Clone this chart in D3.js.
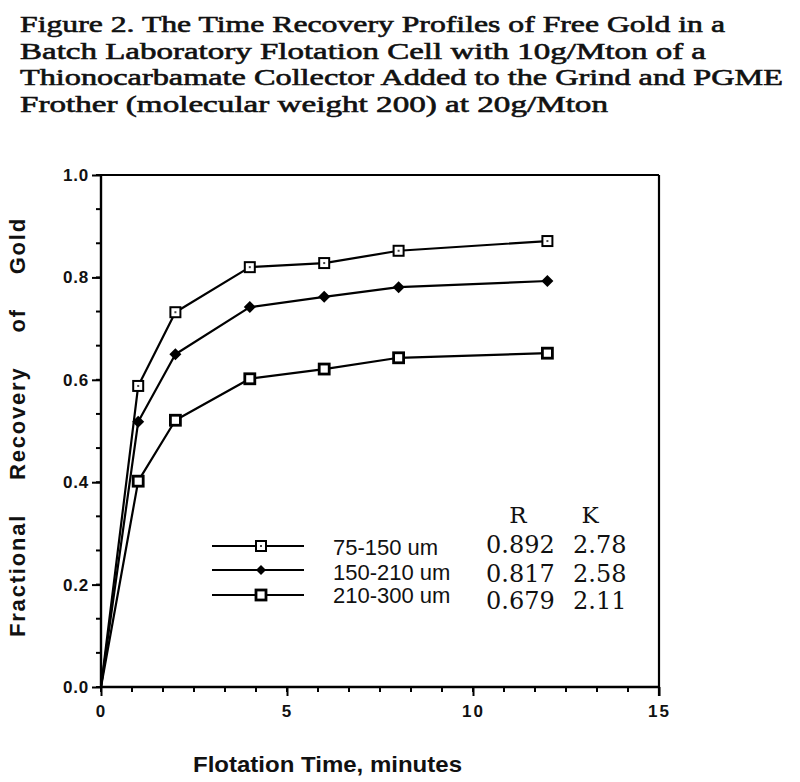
<!DOCTYPE html>
<html>
<head>
<meta charset="utf-8">
<script src="https://cdn.jsdelivr.net/npm/d3@7"></script>
<style>
  html, body { margin: 0; padding: 0; background: #fff; }
  svg { display: block; }
</style>
</head>
<body>
<svg id="chart" width="800" height="782"></svg>
<script>
// ---------- data ----------
const titleLines = [
  "Figure 2.  The Time Recovery Profiles of Free Gold in a",
  "Batch Laboratory Flotation Cell with 10g/Mton of a",
  "Thionocarbamate Collector Added to the Grind and PGME",
  "Frother (molecular weight 200) at 20g/Mton"
];
const times = [0, 1, 2, 4, 6, 8, 12];
const seriesNames = ["75-150 um", "150-210 um", "210-300 um"];
const rec75_150  = [0, 0.588, 0.732, 0.820, 0.828, 0.852, 0.871];
const rec150_210 = [0, 0.518, 0.650, 0.742, 0.762, 0.781, 0.793];
const rec210_300 = [0, 0.402, 0.521, 0.602, 0.621, 0.643, 0.652];
const paramR = ["0.892", "0.817", "0.679"];
const paramK = ["2.78", "2.58", "2.11"];
const xTicks = [0, 5, 10, 15];
const yTicks = [0.0, 0.2, 0.4, 0.6, 0.8, 1.0];
const xLabel = "Flotation Time, minutes";
const yLabelWords = ["Fractional", "Recovery", "of", "Gold"];

// ---------- layout ----------
const svg = d3.select("#chart");
const L = 101, R = 659, T = 175, B = 687;
const x = d3.scaleLinear().domain([0, 15]).range([L, R]);
const y = d3.scaleLinear().domain([0, 1]).range([B, T]);

// title
const titleWidths = [705, 686, 763, 588];
svg.append("g").selectAll("text").data(titleLines).join("text")
  .attr("x", 20)
  .attr("y", (d, i) => 32 + i * 26.7)
  .attr("textLength", (d, i) => titleWidths[i])
  .attr("lengthAdjust", "spacingAndGlyphs")
  .style("font-family", "'Liberation Serif', 'DejaVu Serif', serif")
  .style("font-size", "23px")
  .style("fill", "#111")
  .style("stroke", "#111").style("stroke-width", "0.6px")
  .text(d => d);

// frame
svg.append("line").attr("x1", L).attr("x2", R).attr("y1", T).attr("y2", T)
  .attr("stroke", "#000").attr("stroke-width", 2.2);
svg.append("line").attr("x1", R).attr("x2", R).attr("y1", T).attr("y2", B + 9)
  .attr("stroke", "#000").attr("stroke-width", 2.2);

// minor ticks
const xMinor = d3.range(0, 19).map(i => i * 5 / 6);
const yMinor = d3.range(0, 16).map(i => i / 15);

const xAxis = d3.axisBottom(x).tickValues(xTicks).tickSize(9).tickPadding(9)
  .tickFormat(d3.format("d"));
const gx = svg.append("g").attr("transform", `translate(0,${B})`).call(xAxis);
gx.attr("font-size", null);
gx.select(".domain").attr("stroke-width", 2.4).attr("d", `M${L},0H${R}`);
gx.selectAll(".tick line").attr("stroke-width", 2);
gx.selectAll(".tick text")
  .attr("font-family", "'Liberation Sans', Arial, sans-serif")
  .attr("font-weight", "bold").attr("font-size", "17px")
  .attr("letter-spacing", "2px").attr("fill", "#111");
svg.append("g").selectAll("line").data(xMinor).join("line")
  .attr("x1", d => x(d)).attr("x2", d => x(d))
  .attr("y1", B).attr("y2", B + 5)
  .attr("stroke", "#000").attr("stroke-width", 2);

const yAxis = d3.axisLeft(y).tickValues(yTicks).tickSize(9).tickPadding(3)
  .tickFormat(d3.format(".1f"));
const gy = svg.append("g").attr("transform", `translate(${L},0)`).call(yAxis);
gy.attr("font-size", null);
gy.select(".domain").attr("stroke-width", 2.4).attr("d", `M0,${B}V${T}`);
gy.selectAll(".tick line").attr("stroke-width", 2);
gy.selectAll(".tick text")
  .attr("font-family", "'Liberation Sans', Arial, sans-serif")
  .attr("font-weight", "bold").attr("font-size", "17px")
  .attr("letter-spacing", "0.8px").attr("fill", "#111");
svg.append("g").selectAll("line").data(yMinor).join("line")
  .attr("x1", L - 5).attr("x2", L)
  .attr("y1", d => y(d)).attr("y2", d => y(d))
  .attr("stroke", "#000").attr("stroke-width", 2);

// axis titles
svg.append("text")
  .attr("x", 193).attr("y", 772)
  .attr("textLength", 269).attr("lengthAdjust", "spacingAndGlyphs")
  .attr("font-family", "'Liberation Sans', Arial, sans-serif")
  .attr("font-weight", "bold").attr("font-size", "22px").attr("fill", "#111")
  .text(xLabel);

svg.append("text")
  .attr("transform", "translate(25,637) rotate(-90)")
  .attr("x", 0).attr("y", 0)
  .attr("font-family", "'Liberation Sans', Arial, sans-serif")
  .attr("font-weight", "bold").attr("font-size", "22px")
  .attr("letter-spacing", "1.8px")
  .attr("word-spacing", "26px").attr("fill", "#111")
  .text(yLabelWords.join(" "));

// series
const seriesVals = [rec75_150, rec150_210, rec210_300];
const line = d3.line().x(d => x(d[0])).y(d => y(d[1]));
const seriesData = seriesVals.map(vals => times.map((t, i) => [t, vals[i]]));

function drawMarker(g, kind, cx, cy) {
  if (kind === 0) {
    g.append("rect").attr("x", cx - 5).attr("y", cy - 5).attr("width", 10).attr("height", 10)
      .attr("fill", "#fff").attr("stroke", "#000").attr("stroke-width", 2);
    g.append("rect").attr("x", cx - 1).attr("y", cy - 1).attr("width", 2).attr("height", 2)
      .attr("fill", "#444");
  } else if (kind === 1) {
    g.append("path").attr("d", `M${cx},${cy - 6}L${cx + 6},${cy}L${cx},${cy + 6}L${cx - 6},${cy}Z`)
      .attr("fill", "#000");
  } else {
    g.append("rect").attr("x", cx - 5).attr("y", cy - 5).attr("width", 10).attr("height", 10)
      .attr("fill", "#fff").attr("stroke", "#000").attr("stroke-width", 2.8);
  }
}

seriesData.forEach((data, k) => {
  svg.append("path").datum(data).attr("d", line)
    .attr("fill", "none").attr("stroke", "#000").attr("stroke-width", 2.2)
    .attr("stroke-linejoin", "round");
  const g = svg.append("g");
  data.filter(d => d[0] > 0).forEach(d => drawMarker(g, k, x(d[0]), y(d[1])));
});

// legend
const legY = [546, 570, 595];
const legTextY = [555, 580, 603];
seriesNames.forEach((name, k) => {
  svg.append("line").attr("x1", 212).attr("x2", 304).attr("y1", legY[k]).attr("y2", legY[k])
    .attr("stroke", "#000").attr("stroke-width", 2);
  const g = svg.append("g");
  if (k === 1) {
    g.append("path").attr("d", `M261,${legY[k] - 5}L266,${legY[k]}L261,${legY[k] + 5}L256,${legY[k]}Z`).attr("fill", "#000");
  } else {
    drawMarker(g, k, 261, legY[k]);
  }
  svg.append("text").attr("x", 333).attr("y", legTextY[k])
    .attr("font-family", "'Liberation Sans', Arial, sans-serif")
    .attr("font-size", "22px").attr("fill", "#111")
    .text(name);
});

// R / K table
const serif = "'DejaVu Serif', 'Liberation Serif', serif";
svg.append("text").attr("x", 518).attr("y", 523).attr("text-anchor", "middle")
  .attr("font-family", serif).attr("font-size", "23px").attr("fill", "#111").text("R");
svg.append("text").attr("x", 590).attr("y", 523).attr("text-anchor", "middle")
  .attr("font-family", serif).attr("font-size", "23px").attr("fill", "#111").text("K");
const rkY = [553, 582, 609];
paramR.forEach((v, k) => {
  svg.append("text").attr("x", 486).attr("y", rkY[k])
    .attr("font-family", serif).attr("font-size", "24px").attr("fill", "#111").text(v);
  svg.append("text").attr("x", 573).attr("y", rkY[k])
    .attr("font-family", serif).attr("font-size", "24px").attr("fill", "#111").text(paramK[k]);
});
</script>
</body>
</html>
